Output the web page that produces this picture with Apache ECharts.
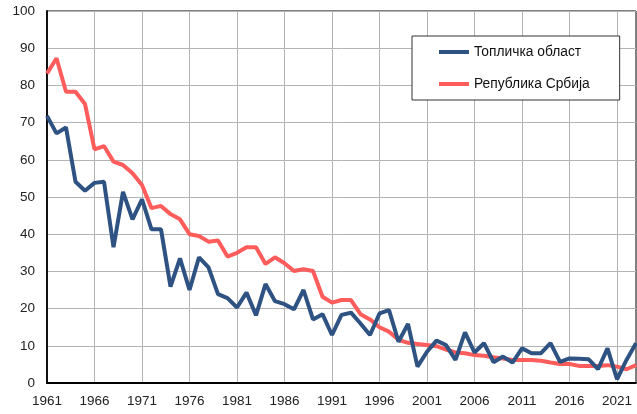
<!DOCTYPE html>
<html>
<head>
<meta charset="utf-8">
<script src="https://cdn.jsdelivr.net/npm/echarts@6/dist/echarts.min.js"></script>
<style>html,body{margin:0;padding:0;background:#fff}#c{width:637px;height:414px}</style>
</head>
<body>
<div id="c"></div>
<script>
const years = [];
for (let y = 1961; y <= 2023; y++) years.push(String(y));
const toplica = [71.8,67.1,68.7,54.1,51.7,53.8,54.1,36.5,51.4,44.0,49.4,41.3,41.3,25.9,33.5,25.0,33.8,31.1,23.9,22.8,20.3,24.3,18.2,26.6,22.0,21.2,19.8,25.0,17.1,18.5,12.9,18.3,18.9,16.0,12.9,18.7,19.6,11.1,15.9,4.4,8.4,11.4,10.2,6.2,13.6,8.2,10.7,5.6,7.1,5.5,9.3,8.0,8.0,10.7,5.7,6.6,6.5,6.4,3.7,9.3,1.0,6.2,10.7];
const srbija = [83.2,87.3,78.3,78.3,75.0,62.8,63.7,59.5,58.6,56.4,53.2,47.0,47.6,45.4,44.0,40.0,39.5,38.0,38.3,34.0,35.0,36.5,36.5,32.0,33.8,32.2,30.1,30.6,30.1,23.2,21.6,22.3,22.3,18.5,17.1,15.0,13.8,11.6,10.8,10.5,10.2,9.9,9.0,8.2,8.0,7.5,7.3,6.9,6.6,6.2,6.2,6.2,6.0,5.5,5.1,5.1,4.6,4.6,4.6,4.8,4.4,3.7,4.8];
const seriesNames = ['Топличка област', 'Република Србија'];
const yTicks = {min: 0, max: 100, interval: 10};

const chart = echarts.init(document.getElementById('c'));
const font = 'Liberation Sans, Arial, sans-serif';
chart.setOption({
  animation: false,
  grid: {left: 47, right: 1, top: 11, bottom: 31, show: true, borderColor: '#000', borderWidth: 1},
  legend: {
    orient: 'vertical', left: 412, top: 36,
    padding: [9, 30, 9, 27], itemGap: 18,
    itemWidth: 30, itemHeight: 4, icon: 'rect',
    backgroundColor: '#fff', borderColor: '#333', borderWidth: 1,
    textStyle: {fontFamily: font, fontSize: 13.8, color: '#111'},
    data: seriesNames
  },
  xAxis: {
    type: 'category', data: years, boundaryGap: false,
    axisLine: {lineStyle: {color: '#000', width: 1.8}},
    axisTick: {show: false},
    axisLabel: {interval: 4, fontFamily: font, fontSize: 13.5, color: '#222', margin: 11},
    splitLine: {show: true, interval: 4, lineStyle: {color: '#b3b3b3', width: 1}}
  },
  yAxis: {
    type: 'value', min: yTicks.min, max: yTicks.max, interval: yTicks.interval,
    axisLine: {show: true, lineStyle: {color: '#000', width: 1.8}},
    axisTick: {show: false},
    axisLabel: {fontFamily: font, fontSize: 13.5, color: '#222', margin: 12},
    splitLine: {lineStyle: {color: '#b3b3b3', width: 1}}
  },
  series: [
    {name: seriesNames[0], type: 'line', data: toplica, symbol: 'none', lineStyle: {color: '#2e5281', width: 4}, itemStyle: {color: '#2e5281'}, z: 3},
    {name: seriesNames[1], type: 'line', data: srbija, symbol: 'none', lineStyle: {color: '#ff5c5c', width: 4}, itemStyle: {color: '#ff5c5c'}, z: 2}
  ]
});
</script>
</body>
</html>
